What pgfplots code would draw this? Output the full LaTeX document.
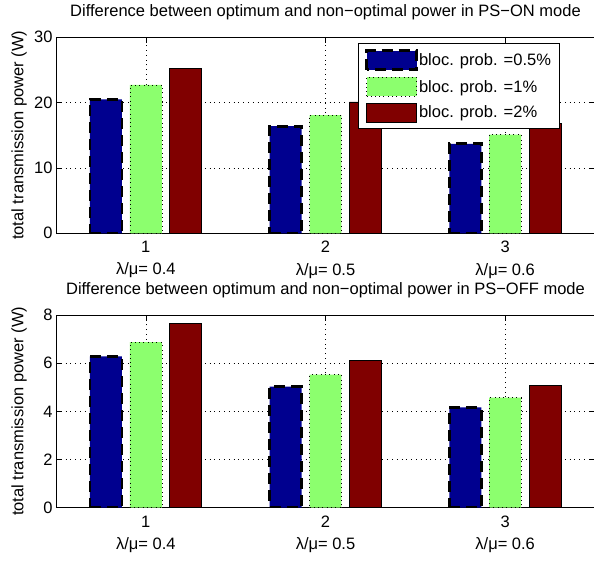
\documentclass[border=0pt]{standalone}
\usepackage{fontspec}
\setmainfont{Liberation Sans}
\usepackage{pgfplots}
\pgfplotsset{compat=1.18}

\definecolor{barblue}{RGB}{0,0,143}
\definecolor{bargreen}{RGB}{140,255,110}
\definecolor{barred}{RGB}{128,0,0}

\newcommand{\mfont}{\fontsize{16.5}{22.3}\selectfont}

\pgfplotsset{
  panel/.style={
    scale only axis,
    width=539pt,
    xmin=0.5, xmax=3.5,
    xtick={1,2,3},
    xticklabels={{1\\λ/μ= 0.4},{2\\λ/μ= 0.5},{3\\λ/μ= 0.6}},
    xticklabel style={align=center, font=\mfont, yshift=-4.5pt},
    yticklabel style={font=\mfont},
    /pgf/number format/assume math mode=true,
    ybar, bar width=0.178,
    grid=major,
    major grid style={black, line width=0.5pt, dash pattern=on 0.8pt off 4pt},
    tick align=inside,
    major tick length=6pt,
    tick style={black, line width=0.6pt},
    axis line style={black, line width=0.8pt},
    ylabel={total transmission power (W)},
    ylabel style={font=\mfont, at={(axis description cs:0,0.5)}, anchor=base, yshift=32.7pt},
    title style={font=\mfont, at={(0.5,1)}, anchor=base, yshift=14.5pt},
  },
  s1/.style={fill=barblue, draw=black, line width=2.8pt, dash pattern=on 11pt off 6pt, bar shift=-0.222},
  s2/.style={fill=bargreen, draw=black, line width=0.6pt, dash pattern=on 0.8pt off 3.5pt, bar shift=0},
  s3/.style={fill=barred, draw=black, line width=0.6pt, bar shift=0.222},
  box legend/.style={legend image code/.code={\draw[##1] (0pt,-9.5pt) rectangle (50pt,9.5pt);}},
}

\begin{document}
\begin{tikzpicture}
\path[use as bounding box] (0,0) rectangle (594pt,561pt);

% PS-ON mode
\begin{axis}[panel,
  at={(56pt,327.7pt)}, anchor=south west,
  height=196pt,
  ymin=0, ymax=30, ytick={0,10,20,30},
  title={Difference between optimum and non−optimal power in PS−ON mode},
  legend style={at={(0.560,0.972)}, anchor=north west, draw=black, line width=0.8pt,
    fill=white, font=\mfont, row sep=6pt, inner xsep=7pt, inner ysep=6pt,
    nodes={inner xsep=1pt, inner ysep=2pt}},
  legend cell align=left,
  legend style={/tikz/every even column/.append style={column sep=3pt}},
]
\addplot[s1, box legend] coordinates {(1,20.5) (2,16.4) (3,13.7)};
\addplot[s2, box legend] coordinates {(1,22.7) (2,18.1) (3,15.1)};
\addplot[s3, box legend] coordinates {(1,25.2) (2,20.1) (3,16.8)};
\legend{bloc. prob. =0.5\%, bloc. prob. =1\%, bloc. prob. =2\%}
\end{axis}

% PS-OFF mode
\begin{axis}[panel,
  at={(56pt,53.3pt)}, anchor=south west,
  height=192.7pt,
  ymin=0, ymax=8, ytick={0,2,4,6,8},
  title={Difference between optimum and non−optimal power in PS−OFF mode},
]
\addplot[s1] coordinates {(1,6.28) (2,5.03) (3,4.16)};
\addplot[s2] coordinates {(1,6.87) (2,5.52) (3,4.57)};
\addplot[s3] coordinates {(1,7.66) (2,6.12) (3,5.09)};
\end{axis}
\end{tikzpicture}
\end{document}
